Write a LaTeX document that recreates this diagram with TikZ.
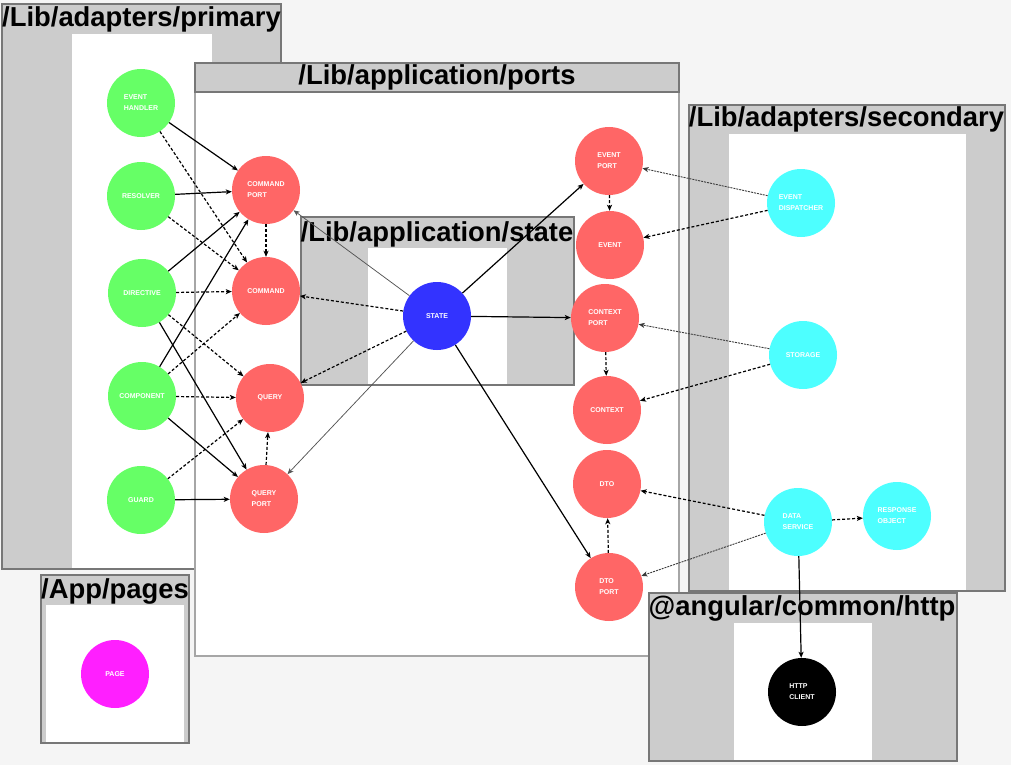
\documentclass[tikz,border=0pt]{standalone}
\usepackage{fontspec}
\setmainfont{Liberation Sans}
\usetikzlibrary{arrows.meta}
\definecolor{bgc}{HTML}{F5F5F5}
\definecolor{boxgray}{HTML}{CCCCCC}
\definecolor{boxline}{HTML}{777777}
\definecolor{lightline}{HTML}{A6A6A6}
\definecolor{ngreen}{HTML}{66FF66}
\definecolor{nred}{HTML}{FF6666}
\definecolor{nblue}{HTML}{3333FF}
\definecolor{ncyan}{HTML}{4DFFFF}
\definecolor{nmag}{HTML}{FF1FFF}
\definecolor{thingray}{HTML}{555555}
\definecolor{dashgray}{HTML}{3A3A3A}
\newcommand{\nodefnt}{\fontsize{7}{11}\selectfont\bfseries}
\newcommand{\titlefnt}{\fontsize{27.4}{30}\selectfont\bfseries}
\begin{document}
\begin{tikzpicture}[x=1pt,y=-1pt,
  container/.style={fill=boxgray,draw=boxline,line width=1.2pt},
  boxtitle/.style={anchor=base,inner sep=0pt,font=\titlefnt,text=black},
  nd/.style={circle,minimum size=68pt,inner sep=0pt,text=white,font=\nodefnt,align=left},
  gnode/.style={nd,fill=ngreen},
  rnode/.style={nd,fill=nred},
  bnode/.style={nd,fill=nblue},
  cnode/.style={nd,fill=ncyan},
  knode/.style={nd,fill=black},
  mnode/.style={nd,fill=nmag},
  tip/.style={-{Stealth[length=6pt,width=5pt,inset=1.5pt]}},
  sarrow/.style={tip,draw=black,line width=1.2pt},
  darrow/.style={tip,draw=black,line width=1.2pt,dash pattern=on 3pt off 2pt},
  garrow/.style={tip,draw=thingray,line width=0.75pt},
  gdarrow/.style={tip,draw=dashgray,line width=0.9pt,dash pattern=on 2pt off 1pt}
]
\useasboundingbox (0,0) rectangle (1011,765);
\fill[bgc] (0,0) rectangle (1011,765);

% /Lib/adapters/primary
\draw[container] (2,4) rectangle (281,569);
\fill[white] (72,34) rectangle (212,568.4);
\node[boxtitle] (tprim) at (141.5,27) {/Lib/adapters/primary};

% /App/pages
\draw[container] (41,575) rectangle (189,743);
\fill[white] (46,605) rectangle (184,742.4);
\node[boxtitle] (tpages) at (115,598) {/App/pages};

% /Lib/application/ports
\draw[fill=white,draw=lightline,line width=1.2pt] (195,63) rectangle (679,656);
\draw[fill=boxgray,draw=boxline,line width=1.2pt] (195,63) rectangle (679,92);
\node[boxtitle] (tports) at (437,85) {/Lib/application/ports};

% /Lib/application/state
\draw[container] (301,217) rectangle (574,385);
\fill[white] (368,248) rectangle (507,384.4);
\node[boxtitle] (tstate) at (437,241) {/Lib/application/state};

% /Lib/adapters/secondary
\draw[container] (689,105) rectangle (1005,591);
\fill[white] (729,134) rectangle (966,590.4);
\node[boxtitle] (tsec) at (846.5,127) {/Lib/adapters/secondary};

% @angular/common/http
\draw[container] (649,593) rectangle (957,761);
\fill[white] (734,623) rectangle (872,760.4);
\node[boxtitle] (tang) at (802,615) {@angular/common/http};

% nodes
\node[gnode] (eh) at (141,103) {EVENT\\HANDLER};
\node[gnode] (res) at (141,196) {RESOLVER};
\node[gnode] (dir) at (142,293) {DIRECTIVE};
\node[gnode] (comp) at (142,396) {COMPONENT};
\node[gnode] (guard) at (141,500) {GUARD};

\node[rnode] (cp) at (266,190) {COMMAND\\PORT};
\node[rnode] (cmd) at (266,291) {COMMAND};
\node[rnode] (qry) at (270,398) {QUERY};
\node[rnode] (qp) at (264,499) {QUERY\\PORT};

\node[bnode] (st) at (437,316) {STATE};

\node[rnode] (ep) at (609,161) {EVENT\\PORT};
\node[rnode] (ev) at (610,245) {EVENT};
\node[rnode] (ctxp) at (605,318) {CONTEXT\\PORT};
\node[rnode] (ctx) at (607,410) {CONTEXT};
\node[rnode] (dto) at (607,484) {DTO};
\node[rnode] (dtop) at (609,587) {DTO\\PORT};

\node[cnode] (edisp) at (801,203) {EVENT\\DISPATCHER};
\node[cnode] (stor) at (803,355) {STORAGE};
\node[cnode] (dsvc) at (798,522) {DATA\\SERVICE};
\node[cnode] (resp) at (897,516) {RESPONSE\\OBJECT};

\node[knode] (http) at (802,692) {HTTP\\CLIENT};
\node[mnode] (page) at (115,674) {PAGE};

% primary -> ports
\draw[sarrow] (eh) -- (cp);
\draw[darrow] (eh) -- (cmd);
\draw[sarrow] (res) -- (cp);
\draw[darrow] (res) -- (cmd);
\draw[sarrow] (dir) -- (cp);
\draw[darrow] (dir) -- (cmd);
\draw[darrow] (dir) -- (qry);
\draw[sarrow] (dir) -- (qp);
\draw[sarrow] (comp) -- (cp);
\draw[darrow] (comp) -- (cmd);
\draw[darrow] (comp) -- (qry);
\draw[sarrow] (comp) -- (qp);
\draw[darrow] (guard) -- (qry);
\draw[sarrow] (guard) -- (qp);

% within ports
\draw[darrow] (cp) -- (cmd);
\draw[darrow] (qp) -- (qry);
\draw[darrow] (ep) -- (ev);
\draw[darrow] (ctxp) -- (ctx);
\draw[darrow] (dtop) -- (dto);

% state
\draw[garrow] (st) -- (cp);
\draw[darrow] (st) -- (cmd);
\draw[darrow] (st) -- (qry);
\draw[garrow] (st) -- (qp);
\draw[sarrow] (st) -- (ep);
\draw[sarrow] (st) -- (ctxp);
\draw[sarrow] (st) -- (dtop);

% secondary
\draw[gdarrow] (edisp) -- (ep);
\draw[darrow] (edisp) -- (ev);
\draw[gdarrow] (stor) -- (ctxp);
\draw[darrow] (stor) -- (ctx);
\draw[darrow] (dsvc) -- (dto);
\draw[gdarrow] (dsvc) -- (dtop);
\draw[darrow] (dsvc) -- (resp);
\draw[sarrow] (dsvc) -- (http);
\end{tikzpicture}
\end{document}
